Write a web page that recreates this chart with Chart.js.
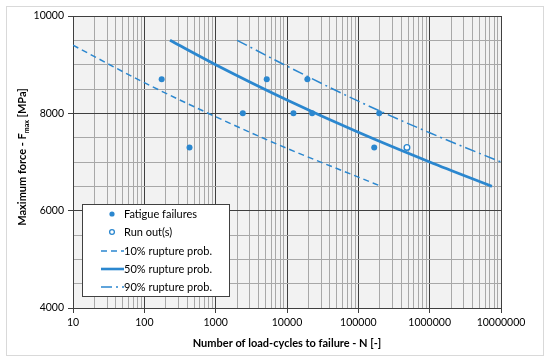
<!DOCTYPE html>
<html>
<head>
<meta charset="utf-8">
<script src="https://cdn.jsdelivr.net/npm/chart.js@4.4.0/dist/chart.umd.min.js"></script>
<style>
  html, body { margin: 0; padding: 0; background: #fff; }
  #wrap { width: 550px; height: 363px; position: relative; }
</style>
</head>
<body>
<div id="wrap"><canvas id="sn-chart"></canvas></div>
<script>
// Fatigue test results
const failureN = [175, 430, 2400, 5200, 12300, 19300, 22500, 167000, 196000];
const failureF = [8700, 7300, 8000, 8700, 8000, 8700, 8000, 7300, 8000];
const runoutN = [480000];
const runoutF = [7300];

// S-N curves
const p10N = [10, 100, 1000, 10000, 100000, 209000];
const p10F = [9400, 8630, 7930, 7280, 6690, 6500];
const p50N = [229, 1000, 10000, 100000, 1000000, 7450000];
const p50F = [9500, 9000, 8275, 7610, 7000, 6500];
const p90N = [2000, 10000, 100000, 1000000, 10000000];
const p90F = [9500, 8970, 8250, 7600, 7000];

// Axis ticks
const xDecades = [10, 100, 1000, 10000, 100000, 1000000, 10000000];
const yMajor = [4000, 6000, 8000, 10000];

const legendLabels = ["Fatigue failures", "Run out(s)", "10% rupture prob.", "50% rupture prob.", "90% rupture prob."];

const blue = "#2b87cf";
const majorGrid = "#3f3f3f";
const minorGrid = "#a8a8a8";
const FONT = "Lato, 'Open Sans', sans-serif";

function toXY(xs, ys) {
    return xs.map((x, i) => ({ x: x, y: ys[i] }));
}

function isDecade(v) {
    return xDecades.some((d) => Math.abs(d - v) < d * 1e-6);
}

const frameAndBackground = {
    id: "frameAndBackground",
    beforeDraw(chart) {
        const { ctx, chartArea } = chart;
        ctx.save();
        ctx.fillStyle = "#fff";
        ctx.fillRect(0, 0, chart.width, chart.height);
        ctx.strokeStyle = "#d9d9d9";
        ctx.lineWidth = 1;
        ctx.strokeRect(6.5, 6.5, 537, 349);
        ctx.fillStyle = "#f2f2f2";
        ctx.fillRect(chartArea.left, chartArea.top, chartArea.right - chartArea.left, chartArea.bottom - chartArea.top);
        ctx.restore();
    },
};

const yTitleAndLegend = {
    id: "yTitleAndLegend",
    afterDraw(chart) {
        const ctx = chart.ctx;
        ctx.save();
        // y axis title with subscript
        const big = "bold 11px " + FONT;
        const small = "bold 7px " + FONT;
        const partA = "Maximum force - F";
        const partB = "max";
        const partC = " [MPa]";
        ctx.font = big;
        const wA = ctx.measureText(partA).width;
        const wC = ctx.measureText(partC).width;
        ctx.font = small;
        const wB = ctx.measureText(partB).width;
        const total = wA + wB + wC;
        ctx.translate(26, 157);
        ctx.rotate(-Math.PI / 2);
        ctx.fillStyle = "#000";
        ctx.textBaseline = "alphabetic";
        ctx.textAlign = "left";
        let x = -total / 2;
        ctx.font = big;
        ctx.fillText(partA, x, 0);
        x += wA;
        ctx.font = small;
        ctx.fillText(partB, x, 2.5);
        x += wB;
        ctx.font = big;
        ctx.fillText(partC, x, 0);
        ctx.restore();

        // legend box inside the plot
        ctx.save();
        ctx.fillStyle = "#fff";
        ctx.fillRect(82, 204, 148, 93);
        ctx.strokeStyle = "#404040";
        ctx.lineWidth = 1;
        ctx.strokeRect(82.5, 204.5, 147, 92);
        const rows = [214, 232, 251, 269, 287];
        ctx.font = "11px " + FONT;
        ctx.fillStyle = "#000";
        ctx.textBaseline = "middle";
        legendLabels.forEach((t, i) => {
            ctx.fillText(t, 124, rows[i] + 0.5);
        });
        ctx.strokeStyle = blue;
        ctx.fillStyle = blue;
        // filled marker
        ctx.beginPath();
        ctx.arc(112, rows[0], 2.6, 0, Math.PI * 2);
        ctx.fill();
        // hollow marker
        ctx.beginPath();
        ctx.lineWidth = 1.3;
        ctx.fillStyle = "#fff";
        ctx.arc(112, rows[1], 2.4, 0, Math.PI * 2);
        ctx.fill();
        ctx.stroke();
        // line samples
        const samples = [
            { y: rows[2], w: 1.5, dash: [6, 4] },
            { y: rows[3], w: 2.6, dash: [] },
            { y: rows[4], w: 1.5, dash: [11, 4, 2, 4] },
        ];
        samples.forEach((s) => {
            ctx.beginPath();
            ctx.lineWidth = s.w;
            ctx.setLineDash(s.dash);
            ctx.moveTo(101, s.y);
            ctx.lineTo(124, s.y);
            ctx.stroke();
        });
        ctx.restore();
    },
};

const chartData = {
    datasets: [
        {
            label: legendLabels[0],
            data: toXY(failureN, failureF),
            backgroundColor: blue,
            borderColor: blue,
            pointRadius: 3,
            pointBorderWidth: 0,
            showLine: false,
        },
        {
            label: legendLabels[1],
            data: toXY(runoutN, runoutF),
            backgroundColor: "#fff",
            borderColor: blue,
            pointRadius: 2.8,
            pointBorderWidth: 1.4,
            showLine: false,
        },
        {
            label: legendLabels[2],
            data: toXY(p10N, p10F),
            borderColor: blue,
            borderWidth: 1.5,
            borderDash: [6, 4],
            pointRadius: 0,
            showLine: true,
            cubicInterpolationMode: "monotone",
        },
        {
            label: legendLabels[3],
            data: toXY(p50N, p50F),
            borderColor: blue,
            borderWidth: 2.8,
            pointRadius: 0,
            showLine: true,
            cubicInterpolationMode: "monotone",
        },
        {
            label: legendLabels[4],
            data: toXY(p90N, p90F),
            borderColor: blue,
            borderWidth: 1.5,
            borderDash: [11, 4, 2, 4],
            pointRadius: 0,
            showLine: true,
            cubicInterpolationMode: "monotone",
        },
    ],
};

const chartOptions = {
    responsive: false,
    animation: false,
    layout: {
        padding: { left: 0, right: 49, top: 16, bottom: 0 },
    },
    plugins: {
        legend: { display: false },
        tooltip: { enabled: false },
    },
    scales: {
        x: {
            type: "logarithmic",
            min: 10,
            max: 10000000,
            afterBuildTicks: (scale) => {
                const ticks = [];
                xDecades.forEach((d, i) => {
                    if (i === xDecades.length - 1) {
                        ticks.push({ value: d, major: true });
                        return;
                    }
                    for (let k = 1; k <= 9; k++) {
                        ticks.push({ value: d * k, major: k === 1 });
                    }
                });
                scale.ticks = ticks;
            },
            afterFit: (scale) => {
                scale.height = 55;
            },
            grid: {
                color: (c) => (c.tick && isDecade(c.tick.value) ? majorGrid : minorGrid),
                tickColor: (c) => (c.tick && isDecade(c.tick.value) ? majorGrid : "rgba(0,0,0,0)"),
                tickLength: 5,
                lineWidth: 1,
            },
            border: { color: majorGrid },
            ticks: {
                autoSkip: false,
                maxRotation: 0,
                padding: 3,
                color: "#000",
                font: { family: FONT, size: 10.5 },
                callback: (v) => (isDecade(v) ? String(v) : ""),
            },
            title: {
                display: true,
                text: "Number of load-cycles to failure - N [-]",
                color: "#000",
                font: { family: FONT, size: 11, weight: "bold" },
                padding: { top: 4, bottom: 13 },
            },
        },
        y: {
            type: "linear",
            min: 4000,
            max: 10000,
            afterFit: (scale) => {
                scale.width = 73;
            },
            grid: {
                color: (c) => (c.tick && yMajor.includes(c.tick.value) ? majorGrid : minorGrid),
                tickColor: (c) => (c.tick && yMajor.includes(c.tick.value) ? majorGrid : "rgba(0,0,0,0)"),
                tickLength: 5,
                lineWidth: 1,
            },
            border: { color: majorGrid },
            ticks: {
                stepSize: 500,
                autoSkip: false,
                padding: 4,
                color: "#000",
                font: { family: FONT, size: 10.5 },
                callback: (v) => (yMajor.includes(v) ? String(v) : ""),
            },
        },
    },
};

const chartElement = document.getElementById("sn-chart");
chartElement.width = 550;
chartElement.height = 363;
window.snChart = new Chart(chartElement, {
    type: "scatter",
    data: chartData,
    options: chartOptions,
    plugins: [frameAndBackground, yTitleAndLegend],
});
</script>
</body>
</html>
